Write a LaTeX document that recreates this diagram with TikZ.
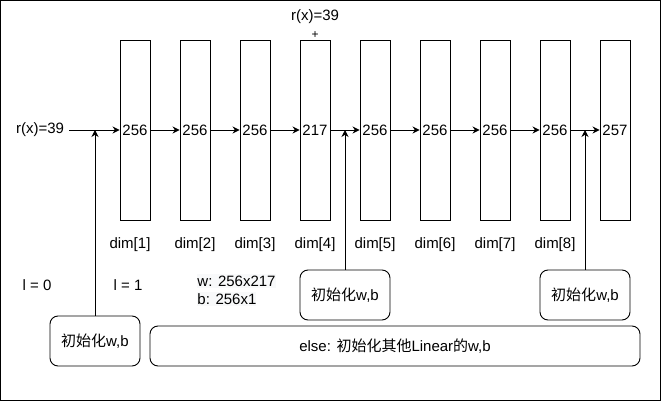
\documentclass[tikz,border=0pt]{standalone}
\usepackage{fontspec}
\setmainfont{Liberation Sans}
\newfontfamily\cjk{Noto Sans CJK SC}
\usepackage{tikz}
\usetikzlibrary{arrows.meta, positioning}
\definecolor{notebg}{HTML}{F8F9FA}

\begin{document}
\begin{tikzpicture}[x=1pt,y=-1pt,line width=0.9pt,font=\fontsize{15}{18}\selectfont,
    layerbox/.style={draw,minimum width=30pt,minimum height=180pt,inner sep=0pt},
    initbox/.style={draw,rounded corners=8pt,inner sep=0pt},
    flow/.style={-{Stealth[length=7pt,width=7pt]}}]
        \useasboundingbox (0,0) rectangle (661,401);
        \draw (0.5,0.5) rectangle (660,400);
        % layers
        \foreach \i/\n in {1/256,2/256,3/256,4/217,5/256,6/256,7/256,8/256,9/257} {
          \node[layerbox] (c\i) at ({75+60*\i},130) {\n};
        }
        \foreach \i/\x in {1/130,2/195,3/255,4/315,5/375,6/435,7/495,8/555} {
          \node (d\i) at (\x,245) {dim[\i]};
        }
        \foreach \i [evaluate=\i as \j using int(\i+1)] in {1,...,8} {
          \draw[flow] (c\i.east) -- (c\j.west);
        }
        % input
        \node[inner sep=5pt] (rin) at (40,130) {r(x)=39};
        \draw[flow] (rin) -- (c1);
        \node (rtop) at (315,17) {r(x)=39};
        \node[font=\fontsize{12}{14}\selectfont] (plus) at (315,35) {+};
        % init boxes
        \node[initbox,minimum width=90pt,minimum height=50pt] (init1) at (95,341) {{\cjk 初始化}w,b};
        \node[initbox,minimum width=90pt,minimum height=50pt] (init4) at (345,295) {{\cjk 初始化}w,b};
        \node[initbox,minimum width=90pt,minimum height=50pt] (init8) at (585,295) {{\cjk 初始化}w,b};
        \node[initbox,minimum width=490pt,minimum height=40pt] (initelse) at (395,346) {else: {\cjk 初始化其他}Linear{\cjk 的}w,b};
        \draw[flow] (init1.north) -- (init1.north |- c1.west);
        \draw[flow] (init4.north) -- (init4.north |- c4.east);
        \draw[flow] (init8.north) -- (init8.north |- c8.east);
        % notes
        \node (l0) at (37,285) {l = 0};
        \node (l1) at (128,285) {l = 1};
        \node[anchor=west,fill=notebg,inner xsep=0pt,inner ysep=1.5pt] (wsize) at (197,281) {w: 256x217};
        \node[anchor=west,fill=notebg,inner xsep=0pt,inner ysep=1.5pt] (bsize) at (197,299) {b: 256x1};
\end{tikzpicture}
\end{document}
